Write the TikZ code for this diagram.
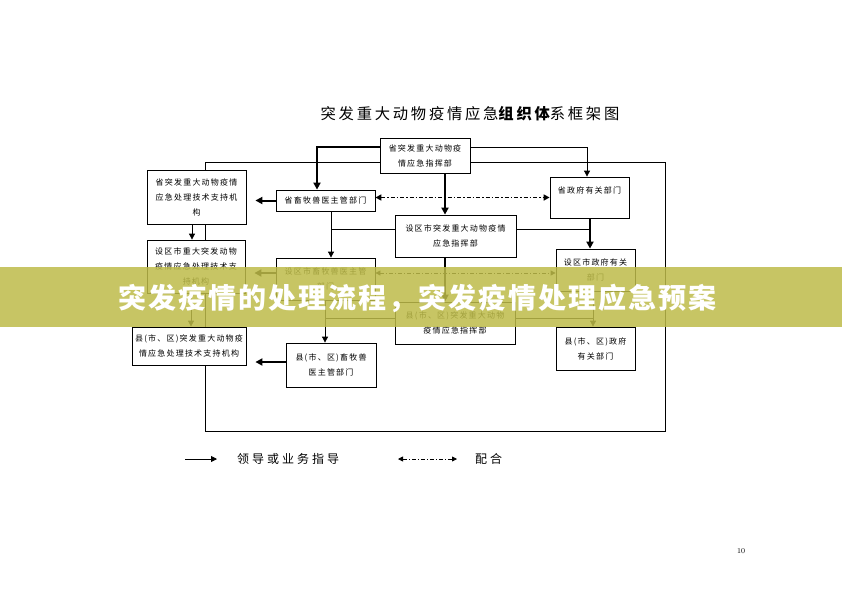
\documentclass[tikz,border=0pt]{standalone}
\usepackage{fontspec}
\usetikzlibrary{arrows.meta,calc}
\newfontfamily\cjk[LetterSpace=15]{Noto Sans CJK SC}
\newfontfamily\cjktitle[LetterSpace=18]{Noto Sans CJK SC}
\newfontfamily\cjklegend[LetterSpace=25]{Noto Sans CJK SC}
\newfontfamily\cjkban[LetterSpace=7]{Noto Sans CJK SC}
\definecolor{bannercol}{RGB}{190,188,73}
\tikzset{
  orgbox/.style={draw, line width=0.8pt, fill=white, inner sep=1pt, align=center,
                 font=\cjk\fontsize{8}{15}\selectfont},
  plainline/.style={line width=0.8pt},
  ldarrow/.style={line width=0.8pt, -{Triangle[length=6pt,width=6pt]}},
  ldthick/.style={line width=2pt, -{Triangle[length=7pt,width=7pt]}},
  coopline/.style={line width=0.8pt, dash pattern=on 4pt off 2pt on 1pt off 2pt,
                   {Triangle[length=5pt,width=5pt]}-{Triangle[length=5pt,width=5pt]}},
  coopthick/.style={line width=1.6pt, dash pattern=on 4pt off 2pt on 1.5pt off 2pt,
                   {Triangle[length=6pt,width=6pt]}-{Triangle[length=6pt,width=6pt]}},
  legendtxt/.style={font=\cjklegend\fontsize{12}{14}\selectfont, inner sep=0pt}
}
\begin{document}
\begin{tikzpicture}[x=1pt,y=-1pt]
\fill[white] (0,0) rectangle (842,595);
\useasboundingbox (0,0) rectangle (842,595);

% title
\node[font=\cjktitle\fontsize{15.3}{18}\selectfont, inner sep=0pt] (title) at (470,114)
  {突发重大动物疫情应急{\bfseries 组织体}系框架图};

% outer frame
\coordinate (fr1) at (205,162);
\coordinate (fr2) at (665,431);
\draw[plainline] (fr1) rectangle (fr2);

% boxes
\node[orgbox, minimum width=90pt, minimum height=35pt] (top) at (425,155.5) {省突发重大动物疫\\情应急指挥部};
\node[orgbox, minimum width=99pt, minimum height=21pt] (pxm) at (325.5,200.5) {省畜牧兽医主管部门};
\node[orgbox, minimum width=79pt, minimum height=41pt] (pzf) at (589.5,197.5) {省政府有关部门\\~};
\node[orgbox, minimum width=99pt, minimum height=54pt] (L1) at (196.5,197) {省突发重大动物疫情\\应急处理技术支持机\\构};
\node[orgbox, minimum width=98pt, minimum height=53pt] (L2) at (196,266.5) {设区市重大突发动物\\疫情应急处理技术支\\持机构};
\node[orgbox, minimum width=114pt, minimum height=38pt] (L3) at (189,346) {县(市、区)突发重大动物疫\\情应急处理技术支持机构};
\node[orgbox, minimum width=99pt, minimum height=42pt] (sxm) at (325.5,279) {设区市畜牧兽医主管\\部门};
\node[orgbox, minimum width=121pt, minimum height=42pt] (szh) at (455.5,236) {设区市突发重大动物疫情\\应急指挥部};
\node[orgbox, minimum width=79pt, minimum height=42pt] (szf) at (595.5,270) {设区市政府有关\\部门};
\node[orgbox, minimum width=120pt, minimum height=42pt] (xzh) at (455,323) {县(市、区)突发重大动物\\疫情应急指挥部};
\node[orgbox, minimum width=90pt, minimum height=44pt] (xxm) at (331,365) {县(市、区)畜牧兽\\医主管部门};
\node[orgbox, minimum width=79pt, minimum height=43pt] (xzf) at (595.5,348.5) {县(市、区)政府\\有关部门};

% province level
\draw[ldthick] ($(top.west)+(0,-8.5)$) -| ($(pxm.north)+(-8.5,0)$);
\draw[ldarrow] ($(top.east)+(0,-8.5)$) -| ($(pzf.north)+(-2.5,0)$);
\coordinate (v0) at ($(top.south)+(20,0)$);
\draw[ldthick] (v0) -- (v0 |- szh.north);
\draw[ldthick, shorten >=9pt] (pxm.west) -- (pxm.west -| L1.east);
\draw[coopthick] (pzf.west -| pxm.east) -- (pzf.west);

% technical support chain
\coordinate (v2) at ($(L1.south)+(-4.5,0)$);
\draw[ldarrow] (v2) -- (v2 |- L2.north);
\coordinate (v3) at ($(L2.south)+(-5,0)$);
\draw[ldarrow] (v3) -- (v3 |- L3.north);

% city level
\coordinate (v4) at ($(pxm.south)+(5.5,0)$);
\draw[ldarrow] (v4) -- (v4 |- sxm.north);
\coordinate (h1) at ($(szh.west)+(0,-7)$);
\draw[plainline] (h1) -- (h1 -| v4);
\coordinate (v5) at ($(pzf.south)+(0.5,0)$);
\draw[ldthick] (v5) -- (v5 |- szf.north);
\coordinate (h2) at ($(szh.east)+(0,-7)$);
\draw[plainline] (h2) -- (h2 -| v5);
\coordinate (h3) at ($(sxm.west)+(0,-6)$);
\draw[ldthick, shorten >=9pt] (h3) -- (h3 -| L2.east);
\draw[coopline] (h3 -| sxm.east) -- (h3 -| szf.west);

% county level
\coordinate (v6) at ($(szh.south)+(-10.5,0)$);
\draw[ldthick] (v6) -- (v6 |- xzh.north);
\coordinate (v7) at ($(sxm.south)+(-0.5,0)$);
\draw[ldarrow] (v7) -- (v7 |- xxm.north);
\coordinate (v8) at ($(szf.south)+(-2.5,0)$);
\draw[ldarrow] (v8) -- (v8 |- xzf.north);
\coordinate (h4) at ($(xzh.west)+(0,-5)$);
\draw[plainline] (h4) -- (h4 -| v7);
\coordinate (h5) at ($(xzh.east)+(0,-5)$);
\draw[plainline] (h5) -- (h5 -| v8);
\coordinate (h6) at ($(xxm.west)+(0,-3)$);
\draw[ldthick, shorten >=9pt] (h6) -- (h6 -| L3.east);

% legend
\coordinate (la) at (185,459);
\coordinate (lb) at (217,459);
\draw[ldarrow] (la) -- (lb);
\node[legendtxt, anchor=west] (lt1) at (237,459) {领导或业务指导};
\coordinate (lc) at (398,459);
\coordinate (ld) at (457,459);
\draw[coopline] (lc) -- (ld);
\node[legendtxt, anchor=west] (lt2) at (475,459) {配合};

% page number
\node[font=\fontsize{7.5}{8}\selectfont, inner sep=0pt] (pg) at (741,551) {10};

% banner overlay
\fill[bannercol, opacity=0.85] (0,267) rectangle (842,327);
\node[font=\cjkban\bfseries\fontsize{28}{30}\selectfont, text=white, inner sep=0pt] (ban) at (417.5,298)
  {突发疫情的处理流程，突发疫情处理应急预案};
\end{tikzpicture}
\end{document}
